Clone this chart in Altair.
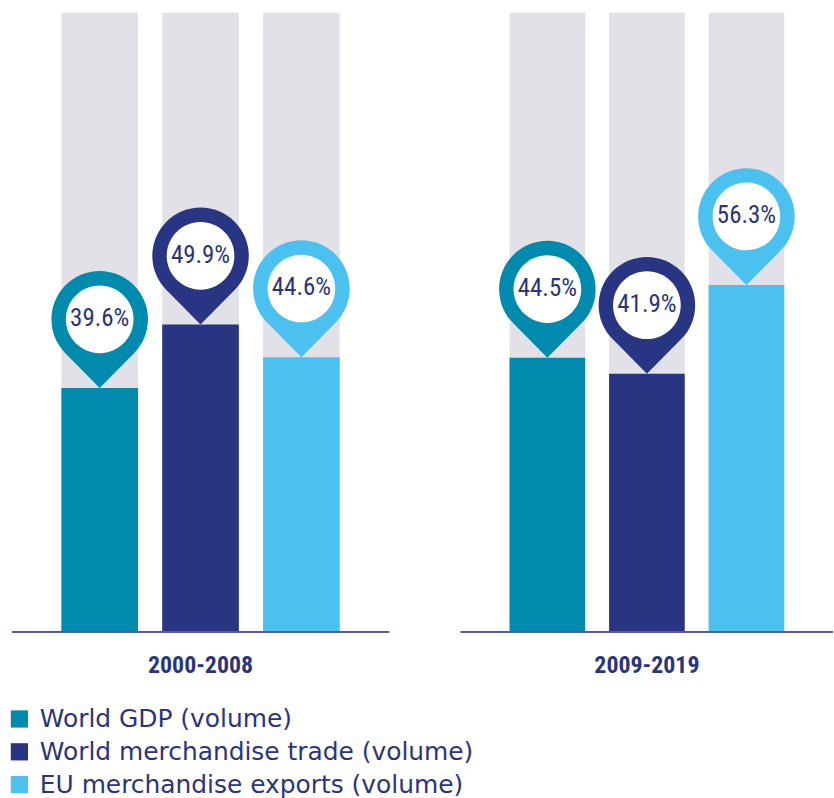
import altair as alt
import pandas as pd

periods = ["2000-2008", "2009-2019"]
series = ["World GDP (volume)", "World merchandise trade (volume)", "EU merchandise exports (volume)"]
values_2000_2008 = [39.6, 49.9, 44.6]
values_2009_2019 = [44.5, 41.9, 56.3]
colors = ["#008aad", "#283583", "#4bc1ef"]
track_max = 100.5

rows = []
for p, vals in zip(periods, [values_2000_2008, values_2009_2019]):
    for s, v in zip(series, vals):
        rows.append({"period": p, "series": s, "value": v, "track": track_max,
                     "label": f"{v:.1f}%"})
df = pd.DataFrame(rows)

NAVY = "#2a3480"
NARROW = "Roboto Condensed"

yscale = alt.Scale(domain=[0, track_max], nice=False, zero=True)
color = alt.Color("series:N", sort=series,
                  scale=alt.Scale(domain=series, range=colors),
                  legend=alt.Legend(title=None, symbolType="square", symbolSize=300,
                                    symbolStrokeWidth=0, symbolOffset=-5,
                                    labelFontSize=25,
                                    labelFont="DejaVu Sans", labelFontWeight="normal",
                                    labelColor=NAVY, labelOffset=8, rowPadding=7,
                                    labelLimit=600, orient="none",
                                    legendX=0, legendY=697))

pin_path = "M0,0 L-0.690,-0.698 A0.97,0.97 0 1 1 0.690,-0.698 Z"
hole_path = "M-0.68,-1.38 A0.68,0.68 0 1 1 0.68,-1.38 A0.68,0.68 0 1 1 -0.68,-1.38 Z"


def panel(period, width):
    x = alt.X("series:N", sort=series, axis=None,
              scale=alt.Scale(paddingInner=0.24, paddingOuter=0.49))
    base = alt.Chart(df).transform_filter(alt.datum.period == period)
    track = base.mark_bar(color="#e3e1e8").encode(
        x=x, y=alt.Y("track:Q", scale=yscale, axis=None))
    bars = base.mark_bar().encode(
        x=x, y=alt.Y("value:Q", scale=yscale, axis=None), color=color)
    pins = base.mark_point(shape=pin_path, size=10000, filled=True, opacity=1,
                           strokeWidth=0).encode(
        x=x, y=alt.Y("value:Q", scale=yscale),
        fill=alt.Fill("series:N", scale=alt.Scale(domain=series, range=colors),
                      legend=None))
    holes = base.mark_point(shape=hole_path, size=10000, filled=True, opacity=1,
                            strokeWidth=0, color="white").encode(
        x=x, y=alt.Y("value:Q", scale=yscale))
    labels = base.mark_text(dy=-70, fontSize=25, font=NARROW, fontWeight="normal",
                            color=NAVY, baseline="middle").encode(
        x=x, y=alt.Y("value:Q", scale=yscale), text="label:N")
    rule = base.mark_rule(color="#555b96", strokeWidth=1.6).encode(y=alt.datum(0))
    return alt.layer(track, bars, pins, holes, labels, rule).properties(
        width=width, height=622,
        title=alt.TitleParams(period, orient="bottom", anchor="middle",
                              fontSize=24, font=NARROW, fontWeight="bold",
                              color=NAVY, offset=22))


chart = alt.hconcat(panel(periods[0], 379), panel(periods[1], 374), spacing=70
).resolve_scale(x="independent", y="shared", color="shared", fill="shared"
).properties(padding={"left": 11, "top": 11, "right": 0, "bottom": 0}
).configure_view(stroke=None).configure_legend(padding=0)

chart.save("out.html", embed_options={"renderer": "svg", "actions": False})
